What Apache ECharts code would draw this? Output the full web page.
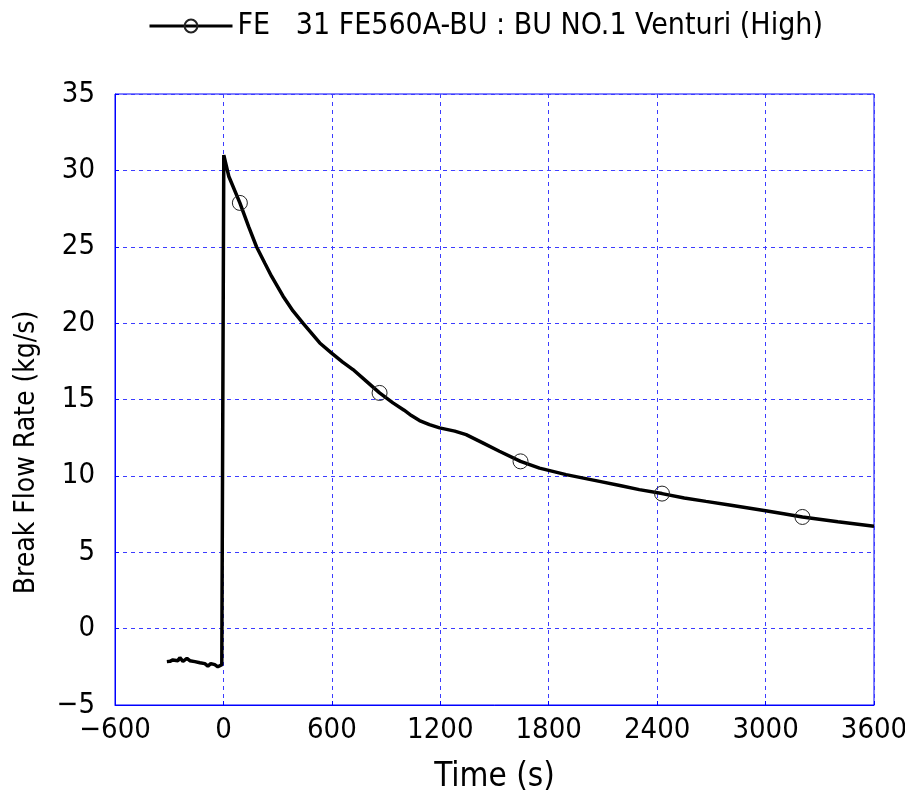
<!DOCTYPE html>
<html>
<head>
<meta charset="utf-8">
<script src="https://cdn.jsdelivr.net/npm/echarts@6/dist/echarts.min.js"></script>
<style>
html,body{margin:0;padding:0;background:#fff;}
#chart{width:905px;height:791px;}
</style>
</head>
<body>
<div id="chart"></div>
<script>
// Time (s)
var timeValues = [-313,-296,-280,-269,-252,-241,-224,-202,-186,-158,-130,-103,-86,-70,-48,-31,-9,0,
  2,30,91,140,183,230,266,330,385,440,533,597,660,717,790,864,938,1000,1040,1085,1140,1196,1280,1343,1435,1527,1644,1749,1896,2081,2200,2301,2427,2550,2670,2800,3000,3100,3204,3400,3600];
// Break flow rate (kg/s)
var flowValues = [-2.16,-2.14,-2.05,-2.00,-2.10,-1.90,-2.14,-1.95,-2.10,-2.16,-2.23,-2.29,-2.45,-2.29,-2.36,-2.50,-2.36,-2.40,
  31.0,29.6,27.87,26.3,25.0,23.9,23.07,21.76,20.8,20.0,18.7,18.05,17.45,16.96,16.2,15.43,14.78,14.3,13.95,13.62,13.35,13.14,12.93,12.7,12.16,11.61,10.95,10.51,10.08,9.64,9.35,9.1,8.84,8.55,8.33,8.1,7.72,7.52,7.31,7.0,6.7];
// Marker positions (times where open circles are drawn)
var markerTimes = [91,864,1644,2427,3204];

var xTicks = [-600,0,600,1200,1800,2400,3000,3600];
var yTicks = [-5,0,5,10,15,20,25,30,35];
var seriesName = 'FE   31 FE560A-BU : BU NO.1 Venturi (High)';

var FONT = '"DejaVu Sans Condensed","Noto Sans",sans-serif';

var lineData = timeValues.map(function(t, i){
  var item = {value:[t, flowValues[i]]};
  if (markerTimes.indexOf(t) < 0) item.symbol = 'none';
  return item;
});

function fmt(v){ return String(v).replace('-', '\u2212'); }

var chart = echarts.init(document.getElementById('chart'));
chart.setOption({
  animation:false,
  backgroundColor:'#ffffff',
  legend:{
    top:6, left:143,
    itemWidth:83, itemHeight:16, itemGap:6,
    textStyle:{fontFamily:FONT, fontSize:30, color:'#000'},
    data:[{name:seriesName, lineStyle:{width:3, color:'#000'}}]
  },
  grid:{left:115, right:31, top:94, bottom:86, show:true, borderColor:'#0000ff', borderWidth:1,
        outerBoundsMode:'none', containLabel:false},
  xAxis:{
    type:'value', min:-600, max:3600, interval:600,
    name:'Time (s)', nameLocation:'middle', nameGap:56,
    nameTextStyle:{fontFamily:FONT, fontSize:33, color:'#000'},
    axisLine:{show:true, onZero:false, lineStyle:{color:'#0000ff', width:1}},
    axisTick:{show:true, inside:true, length:4, lineStyle:{color:'#0000ff'}},
    axisLabel:{fontFamily:FONT, fontSize:29, color:'#000', margin:11, formatter:fmt},
    splitLine:{show:true, lineStyle:{color:'#3c3cff', width:1, type:[4,4]}}
  },
  yAxis:{
    type:'value', min:-5, max:35, interval:5,
    name:'Break Flow Rate (kg/s)', nameLocation:'middle', nameGap:74, nameRotate:90,
    nameTextStyle:{fontFamily:FONT, fontSize:28, color:'#000', padding:[0,106,0,0]},
    axisLine:{show:true, onZero:false, lineStyle:{color:'#0000ff', width:1}},
    axisTick:{show:true, inside:true, length:4, lineStyle:{color:'#0000ff'}},
    axisLabel:{fontFamily:FONT, fontSize:29, color:'#000', margin:20, formatter:fmt},
    splitLine:{show:true, lineStyle:{color:'#3c3cff', width:1, type:[4,4]}}
  },
  series:[{
    name:seriesName,
    type:'line',
    data:lineData,
    showAllSymbol:true,
    symbol:'circle',
    symbolSize:15,
    smooth:false,
    lineStyle:{color:'#000', width:3.5},
    itemStyle:{color:'rgba(255,255,255,0)', borderColor:'#222', borderWidth:1},
    emphasis:{disabled:true}
  }]
});
</script>
</body>
</html>
